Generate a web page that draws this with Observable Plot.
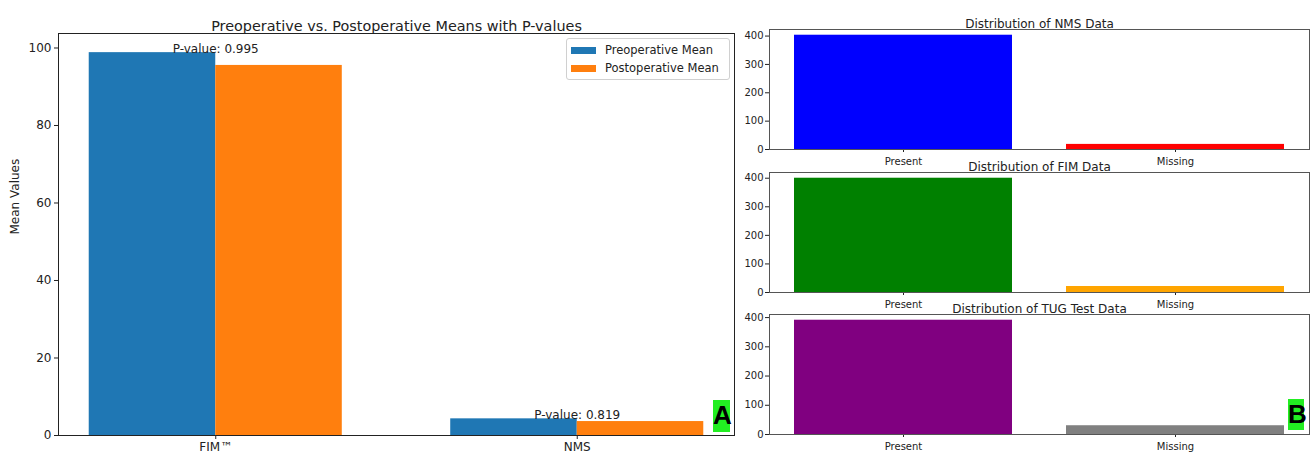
<!DOCTYPE html>
<html>
<head>
<meta charset="utf-8">
<script src="https://cdn.jsdelivr.net/npm/d3@7"></script>
<script src="https://cdn.jsdelivr.net/npm/@observablehq/plot@0.6"></script>
<style>
  body { margin: 0; background: white; font-family: "DejaVu Sans", sans-serif; }
  #wrap { position: relative; width: 1311px; height: 453px; overflow: hidden; background: white; }
  .panel { position: absolute; }
  .legend { position: absolute; border: 1px solid #d0d0d0; border-radius: 3px; background: rgba(255,255,255,0.85); font-size: 11.5px; color: #222; }
  .legend .row { display: flex; align-items: center; height: 18px; }
  .legend .sw { width: 25px; height: 7px; margin: 0 9px 0 4px; }
  .tag { position: absolute; background: #22ee22; color: #000; font-family: "Liberation Sans", Arial, sans-serif; font-weight: bold; font-size: 26px; line-height: 31px; text-align: center; }
</style>
</head>
<body>
<div id="wrap"></div>
<script>
// ---- Panel A data ----
const categories = ["FIM™", "NMS"];
const seriesNames = ["Preoperative Mean", "Postoperative Mean"];
const seriesColors = ["#1f77b4", "#ff7f0e"];
const preMeans = [98.8, 4.3];
const postMeans = [95.5, 3.6];
const pValues = [0.995, 0.819];
const meanTicks = [0, 20, 40, 60, 80, 100];

// ---- Panel B data ----
const distCategories = ["Present", "Missing"];
const distTitles = ["Distribution of NMS Data", "Distribution of FIM Data", "Distribution of TUG Test Data"];
const nmsCounts = [403, 18];
const fimCounts = [400, 21];
const tugCounts = [391, 30];
const nmsColors = ["blue", "red"];
const fimColors = ["green", "orange"];
const tugColors = ["purple", "gray"];
const countTicks = [0, 100, 200, 300, 400];

const wrap = document.getElementById("wrap");
const barW = 0.35;

// ---- Panel A ----
const rowsA = [];
categories.forEach((c, i) => {
  rowsA.push({cat: c, series: seriesNames[0], x1: i - barW, x2: i, value: preMeans[i], color: seriesColors[0]});
  rowsA.push({cat: c, series: seriesNames[1], x1: i, x2: i + barW, value: postMeans[i], color: seriesColors[1]});
});
const pRows = categories.map((c, i) => ({i, top: Math.max(preMeans[i], postMeans[i]), text: "P-value: " + pValues[i].toFixed(3)}));
const maxA = d3.max(rowsA, d => d.value);
const spanA = categories.length - 1 + 2 * barW;
const padA = 0.05 * spanA;

const plotA = Plot.plot({
  width: 740, height: 453,
  marginLeft: 58, marginRight: 6, marginTop: 33, marginBottom: 18,
  style: {fontFamily: "DejaVu Sans, sans-serif", fontSize: "12px", color: "#222", background: "transparent", overflow: "visible"},
  x: {type: "linear", domain: [-barW - padA, categories.length - 1 + barW + padA], axis: null},
  y: {domain: [0, maxA * 1.05], axis: null},
  marks: [
    Plot.rect(rowsA, {x1: "x1", x2: "x2", y1: () => 0, y2: "value", fill: "color"}),
    Plot.text(pRows, {x: "i", y: "top", text: "text", lineAnchor: "bottom", fontSize: 12, fill: "#222"}),
    Plot.axisX({ticks: categories.map((c, i) => i), tickFormat: i => categories[i], tickSize: 4, tickPadding: 3, fontSize: 12, label: null}),
    Plot.axisY({ticks: meanTicks, tickSize: 4, tickPadding: 3, fontSize: 12, label: null}),
    Plot.frame({stroke: "#222"}),
    Plot.text(["Preoperative vs. Postoperative Means with P-values"], {frameAnchor: "top", dy: -13, fontSize: 14.4, fill: "#222"}),
    Plot.text(["Mean Values"], {frameAnchor: "left", dx: -43, rotate: -90, fontSize: 12, fill: "#222"})
  ]
});
plotA.classList.add("panel");
plotA.style.left = "0px"; plotA.style.top = "0px";
wrap.appendChild(plotA);

// legend
const leg = d3.select(wrap).append("div").attr("class", "legend")
  .style("left", "566px").style("top", "38px").style("width", "162px").style("padding", "2px 0");
seriesNames.forEach((n, k) => {
  const r = leg.append("div").attr("class", "row");
  r.append("div").attr("class", "sw").style("background", seriesColors[k]);
  r.append("span").text(n);
});

d3.select(wrap).append("div").attr("class", "tag").text("A")
  .style("left", "713px").style("top", "400px").style("width", "17px").style("height", "32px");

// ---- Panel B ----
const panels = [
  {title: distTitles[0], counts: nmsCounts, colors: nmsColors, top: 0},
  {title: distTitles[1], counts: fimCounts, colors: fimColors, top: 143},
  {title: distTitles[2], counts: tugCounts, colors: tugColors, top: 285}
];
panels.forEach(p => {
  const rows = distCategories.map((c, i) => ({cat: c, count: p.counts[i], color: p.colors[i]}));
  const pl = Plot.plot({
    width: 576, height: 169,
    marginLeft: 34, marginRight: 2, marginTop: 29, marginBottom: 20,
    style: {fontFamily: "DejaVu Sans, sans-serif", fontSize: "10px", color: "#222", background: "transparent", overflow: "visible"},
    x: {type: "band", domain: distCategories, paddingInner: 0.2, paddingOuter: 0.0925, axis: null},
    y: {domain: [0, d3.max(p.counts) * 1.05], axis: null},
    marks: [
      Plot.barY(rows, {x: "cat", y: "count", fill: "color"}),
      Plot.axisX({tickSize: 3, tickPadding: 5, fontSize: 10, label: null}),
      Plot.axisY({ticks: countTicks, tickSize: 4, tickPadding: 2, fontSize: 10, label: null}),
      Plot.frame({stroke: "#555"}),
      Plot.text([p.title], {frameAnchor: "top", dy: -10, fontSize: 12, fill: "#222"})
    ]
  });
  pl.classList.add("panel");
  pl.style.left = "735px"; pl.style.top = p.top + "px";
  wrap.appendChild(pl);
});

d3.select(wrap).append("div").attr("class", "tag").text("B")
  .style("left", "1288px").style("top", "399px").style("width", "16px").style("height", "31px");
</script>
</body>
</html>
